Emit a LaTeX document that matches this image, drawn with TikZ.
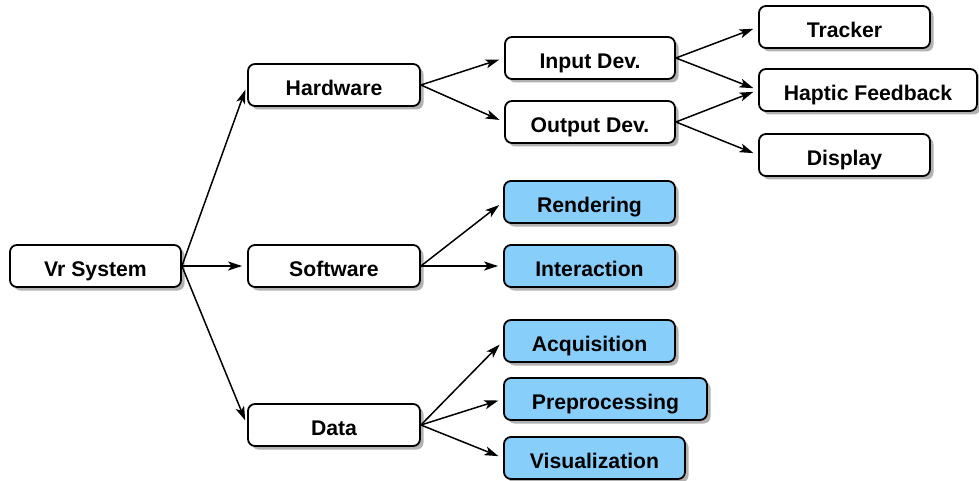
\documentclass[tikz,border=0pt]{standalone}
\usepackage{fontspec}
\setmainfont{Liberation Sans}
\usetikzlibrary{arrows.meta,shadows}
\definecolor{leafblue}{RGB}{135,206,250}
\tikzset{
  box/.style={draw=black, line width=1.8pt, rounded corners=7pt, fill=white,
    minimum height=42pt, inner sep=0pt, align=center,
    text height=21pt, text depth=0pt,
    font=\fontsize{21.2}{24}\selectfont\bfseries,
    drop shadow={shadow xshift=3.5pt, shadow yshift=-3.5pt, fill=black, opacity=0.3}},
  leaf/.style={box, fill=leafblue},
  link/.style={line width=1.5pt, shorten >=5pt,
    -{Stealth[length=14pt, width=9pt, inset=3.5pt]}}
}
\begin{document}
\begin{tikzpicture}[x=1pt, y=-1pt]
  \useasboundingbox (0,0) rectangle (979,481);
  % root and first level
  \node[box, minimum width=171pt] (vr) at (95.5,266) {Vr System};
  \node[box, minimum width=172pt] (hw) at (334,85) {Hardware};
  \node[box, minimum width=172pt] (sw) at (334,266) {Software};
  \node[box, minimum width=172pt] (data) at (334,425) {Data};
  % hardware branch
  \node[box, minimum width=170pt] (in) at (590,58) {Input Dev.};
  \node[box, minimum width=170pt] (out) at (590,122) {Output Dev.};
  \node[box, minimum width=171pt] (trk) at (844.5,27) {Tracker};
  \node[box, minimum width=218pt] (hap) at (868,90) {Haptic Feedback};
  \node[box, minimum width=171pt] (disp) at (844.5,155) {Display};
  % software branch
  \node[leaf, minimum width=171pt] (rend) at (589.5,202) {Rendering};
  \node[leaf, minimum width=171pt] (inter) at (589.5,266) {Interaction};
  % data branch
  \node[leaf, minimum width=171pt] (acq) at (589.5,341) {Acquisition};
  \node[leaf, minimum width=203pt] (prep) at (605.5,399) {Preprocessing};
  \node[leaf, minimum width=181pt] (vis) at (594.5,458) {Visualization};
  % connectors
  \draw[link] (vr.east) -- (hw.west);
  \draw[link] (vr.east) -- (sw.west);
  \draw[link] (vr.east) -- (data.west);
  \draw[link] (hw.east) -- (in.west);
  \draw[link] (hw.east) -- (out.west);
  \draw[link] (in.east) -- (trk.west);
  \draw[link] (in.east) -- (hap.west);
  \draw[link] (out.east) -- (hap.west);
  \draw[link] (out.east) -- (disp.west);
  \draw[link] (sw.east) -- (rend.west);
  \draw[link] (sw.east) -- (inter.west);
  \draw[link] (data.east) -- (acq.west);
  \draw[link] (data.east) -- (prep.west);
  \draw[link] (data.east) -- (vis.west);
\end{tikzpicture}
\end{document}
